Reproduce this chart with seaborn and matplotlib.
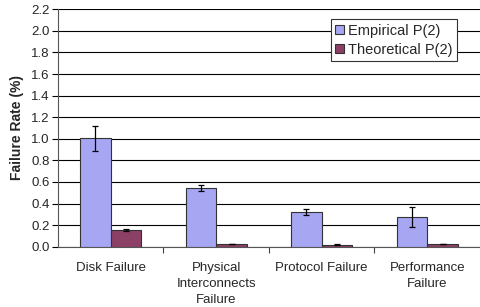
import matplotlib
matplotlib.use("Agg")
import matplotlib.pyplot as plt
import seaborn as sns
import pandas as pd
import numpy as np

categories = ["Disk Failure", "Physical\nInterconnects\nFailure", "Protocol Failure", "Performance\nFailure"]
empirical = [1.005, 0.545, 0.325, 0.275]
empirical_err = [0.115, 0.03, 0.028, 0.095]
theoretical = [0.155, 0.025, 0.02, 0.025]
theoretical_err = [0.005, 0.002, 0.002, 0.002]
series = ["Empirical P(2)", "Theoretical P(2)"]
yticks = [0.0, 0.2, 0.4, 0.6, 0.8, 1.0, 1.2, 1.4, 1.6, 1.8, 2.0, 2.2]

sns.set_theme(style="white")
plt.rcParams["font.family"] = ["Liberation Sans", "DejaVu Sans"]

df = pd.DataFrame({
    "cat": categories * 2,
    "series": [series[0]] * 4 + [series[1]] * 4,
    "val": empirical + theoretical,
})

fig = plt.figure(figsize=(4.81, 3.07), dpi=100)
ax = fig.add_axes([58 / 481, 1 - 246.7 / 307, 422 / 481, (246.7 - 9.3) / 307])

sns.barplot(data=df, x="cat", y="val", hue="series", order=categories, hue_order=series,
            palette=["#9999FF", "#993366"], width=0.58, errorbar=None,
            edgecolor="#333333", linewidth=0.8, ax=ax, zorder=3)

# error bars placed at bar positions from the library's patches
errs = {series[0]: empirical_err, series[1]: theoretical_err}
for cont, s in zip(ax.containers, series):
    xs = [p.get_x() + p.get_width() / 2 for p in cont.patches]
    hs = [p.get_height() for p in cont.patches]
    ax.errorbar(xs, hs, yerr=errs[s], fmt="none", ecolor="black", elinewidth=0.9,
                capsize=2.5, capthick=0.9, zorder=4)

ax.set_ylim(0, 2.2)
ax.set_xlim(-0.5, 3.5)
ax.set_yticks(yticks)
ax.set_yticklabels([f"{v:.1f}" for v in yticks], fontsize=9.5)
ax.yaxis.grid(True, color="black", linewidth=0.8)
ax.set_axisbelow(True)
ax.set_xlabel("")
ax.set_ylabel("Failure Rate (%)", fontsize=10, fontweight="bold", labelpad=5)

ax.set_xticks(range(len(categories)))
ax.set_xticklabels(categories, fontsize=9.5, linespacing=1.45)
ax.set_xticks([0.5, 1.5, 2.5], minor=True)
ax.tick_params(axis="x", which="major", length=0, pad=11)
ax.tick_params(axis="x", which="minor", length=4, width=0.8, color="#444444", direction="out", bottom=True)
ax.tick_params(axis="y", which="major", length=4, width=0.8, color="black", direction="out", left=True, pad=2)

for side in ["top", "right"]:
    ax.spines[side].set_visible(False)
ax.spines["left"].set_color("#555555")
ax.spines["bottom"].set_color("#555555")
ax.spines["left"].set_linewidth(0.8)
ax.spines["bottom"].set_linewidth(0.8)

leg = ax.legend(loc="upper left", bbox_to_anchor=(0.647, 0.958), fontsize=10.5, frameon=True,
                fancybox=False, edgecolor="#333333", framealpha=1, handlelength=0.6,
                handleheight=0.6, handletextpad=0.25, borderpad=0.3, labelspacing=0.35,
                borderaxespad=0)
leg.get_frame().set_linewidth(0.8)
leg.set_zorder(5)

fig.savefig("out.png", dpi=100)
